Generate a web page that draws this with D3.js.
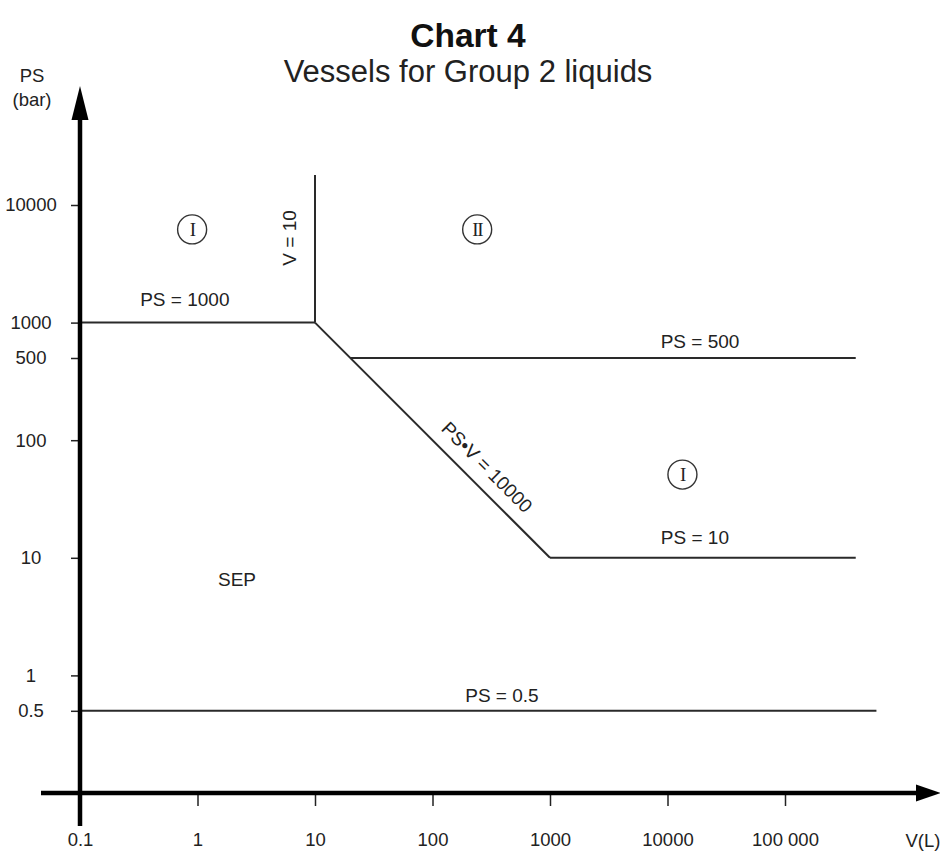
<!DOCTYPE html>
<html><head><meta charset="utf-8">
<script src="https://cdn.jsdelivr.net/npm/d3@7"></script>
<style>
html,body{margin:0;padding:0;background:#fff;}
text{font-family:"Liberation Sans",Arial,sans-serif;fill:#222;}
</style></head>
<body>
<svg id="chart" width="940" height="853"></svg>
<script>
// ---- data ----
const title = "Chart 4";
const subtitle = "Vessels for Group 2 liquids";
const xTickValues = [0.1, 1, 10, 100, 1000, 10000, 100000];
const xTickLabels = ["0.1", "1", "10", "100", "1000", "10000", "100 000"];
const yTickValues = [10000, 1000, 500, 100, 10, 1, 0.5];
const yTickLabels = ["10000", "1000", "500", "100", "10", "1", "0.5"];
// boundary lines
const boundaryLines = [
  {name: "PS = 1000", pts: [[0.1, 1000], [10, 1000]]},
  {name: "V = 10", pts: [[10, 1000], [10, 18000]]},
  {name: "PS·V = 10000", pts: [[10, 1000], [1000, 10]]},
  {name: "PS = 500", pts: [[20, 500], [400000, 500]]},
  {name: "PS = 10", pts: [[1000, 10], [400000, 10]]},
  {name: "PS = 0.5", pts: [[0.1, 0.5], [600000, 0.5]]}
];
// text labels (anchor V, PS, rotation)
const lineLabels = [
  {text: "PS = 1000", v: 0.78, ps: 1570, rot: 0},
  {text: "V = 10", v: 6.0, ps: 5250, rot: -90},
  {text: "PS•V = 10000", v: 291, ps: 59, rot: 45},
  {text: "PS = 500", v: 18900, ps: 690, rot: 0},
  {text: "PS = 10", v: 17100, ps: 14.8, rot: 0},
  {text: "PS = 0.5", v: 390, ps: 0.68, rot: 0},
  {text: "SEP", v: 2.17, ps: 6.5, rot: 0}
];
const categoryMarks = [
  {text: "I", v: 0.9, ps: 6200},
  {text: "II", v: 240, ps: 6200},
  {text: "I", v: 13400, ps: 51}
];

// ---- scales ----
const svg = d3.select("#chart");
const x = d3.scaleLog().domain([0.1, 100000]).range([80, 785]);
const y = d3.scaleLog().domain([0.1, 10000]).range([793, 205]);

// title
svg.append("text").attr("x", 468).attr("y", 47).attr("text-anchor", "middle")
  .style("font-size", "33.5px").style("font-weight", "bold").style("fill", "#111").text(title);
svg.append("text").attr("x", 468).attr("y", 82).attr("text-anchor", "middle")
  .style("font-size", "31px").text(subtitle);

// boundary lines
const line = d3.line().x(d => x(d[0])).y(d => y(d[1]));
svg.selectAll("path.bnd").data(boundaryLines).enter().append("path")
  .attr("class", "bnd").attr("d", d => line(d.pts))
  .attr("fill", "none").attr("stroke", "#2a2a2a").attr("stroke-width", 2);

// x axis ticks + labels
const xAxis = d3.axisBottom(x).tickValues(xTickValues)
  .tickFormat((d, i) => xTickLabels[i]).tickSize(13).tickPadding(27);
const gx = svg.append("g").attr("transform", `translate(0,${y(0.1)})`).call(xAxis);
gx.select(".domain").remove();
gx.selectAll(".tick line").attr("stroke", "#222").attr("stroke-width", 1.5)
  .filter(d => d === 0.1).remove();
gx.selectAll(".tick text").style("font-size", "18.5px").style("fill", "#222")
  .style("font-family", "Liberation Sans, Arial, sans-serif");

// y axis ticks + labels
const yAxis = d3.axisLeft(y).tickValues(yTickValues)
  .tickFormat((d, i) => yTickLabels[i]).tickSize(9).tickPadding(40);
const gy = svg.append("g").attr("transform", `translate(${x(0.1)},0)`).call(yAxis);
gy.select(".domain").remove();
gy.selectAll(".tick line").attr("stroke", "#222").attr("stroke-width", 1.5);
gy.selectAll(".tick text").attr("text-anchor", "middle").style("font-size", "18.5px")
  .style("fill", "#222").style("font-family", "Liberation Sans, Arial, sans-serif");

// thick axis lines with arrows
const x0 = x(0.1), y0 = y(0.1);
svg.append("line").attr("x1", 41).attr("x2", 916).attr("y1", y0).attr("y2", y0)
  .attr("stroke", "#000").attr("stroke-width", 4.5);
svg.append("path").attr("d", `M916,${y0 - 8.5}L941,${y0}L916,${y0 + 8.5}Z`).attr("fill", "#000");
svg.append("line").attr("x1", x0).attr("x2", x0).attr("y1", 826).attr("y2", 118)
  .attr("stroke", "#000").attr("stroke-width", 4.5);
svg.append("path").attr("d", `M${x0 - 8.5},120L${x0},86L${x0 + 8.5},120Z`).attr("fill", "#000");

// axis titles
svg.append("text").attr("x", 32).attr("y", 82).attr("text-anchor", "middle")
  .style("font-size", "18.5px").text("PS");
svg.append("text").attr("x", 32).attr("y", 106).attr("text-anchor", "middle")
  .style("font-size", "18.5px").text("(bar)");
svg.append("text").attr("x", 923).attr("y", 847).attr("text-anchor", "middle")
  .style("font-size", "18.5px").text("V(L)");

// line labels
svg.selectAll("text.lbl").data(lineLabels).enter().append("text")
  .attr("class", "lbl").attr("text-anchor", "middle").attr("dy", "0.35em")
  .attr("transform", d => `translate(${x(d.v)},${y(d.ps)}) rotate(${d.rot})`)
  .style("font-size", "19px").text(d => d.text);

// circled category marks
const cm = svg.selectAll("g.cm").data(categoryMarks).enter().append("g")
  .attr("class", "cm").attr("transform", d => `translate(${x(d.v)},${y(d.ps)})`);
cm.append("circle").attr("r", 14.5).attr("fill", "none").attr("stroke", "#333").attr("stroke-width", 1.4);
cm.append("text").attr("text-anchor", "middle").attr("dy", "0.36em")
  .style("font-family", "Liberation Serif, Times New Roman, serif").style("font-size", "19px")
  .style("letter-spacing", "-1.5px")
  .text(d => d.text);
</script>
</body></html>
